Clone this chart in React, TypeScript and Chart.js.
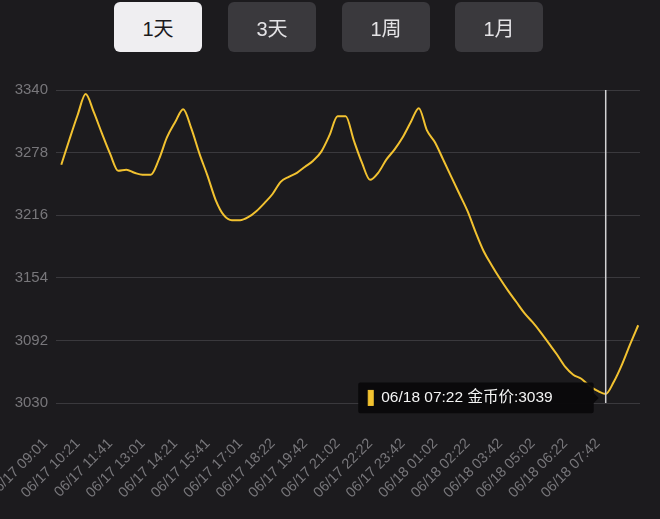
import React, { useEffect, useRef } from 'react';
import { Chart, registerables, Tooltip } from 'chart.js';

Chart.register(...registerables);

const rangeButtons = ['1天', '3天', '1周', '1月'];
const activeRange = '1天';

const tickLabels = [
  '06/17 09:01', '06/17 10:21', '06/17 11:41', '06/17 13:01', '06/17 14:21', '06/17 15:41',
  '06/17 17:01', '06/17 18:22', '06/17 19:42', '06/17 21:02', '06/17 22:22', '06/17 23:42',
  '06/18 01:02', '06/18 02:22', '06/18 03:42', '06/18 05:02', '06/18 06:22', '06/18 07:42',
];
const pointsPerTick = 4;

const prices = [
  3266, 3291, 3315, 3336, 3318, 3297, 3277, 3260, 3261, 3258, 3256, 3256,
  3271, 3293, 3308, 3321, 3302, 3277, 3255, 3231, 3216, 3211, 3211, 3214,
  3220, 3228, 3237, 3249, 3254, 3258, 3264, 3270, 3279, 3295, 3314, 3314,
  3290, 3268, 3251, 3258, 3271, 3281, 3293, 3308, 3322, 3300, 3288, 3271,
  3254, 3237, 3220, 3199, 3180, 3166, 3153, 3141, 3130, 3119, 3110, 3100,
  3089, 3078, 3066, 3058, 3054, 3047, 3042, 3039, 3051, 3068, 3088, 3107,
];

const yMin = 3030;
const yMax = 3340;
const yStep = 62;

const highlightIndex = 67;
const highlightTime = '06/18 07:22';
const seriesName = '金币价';

const BG = '#1c1b1e';
const LINE = '#f2c230';
const GRID = '#3a393d';
const LABEL = '#78777b';
const FONT = '"Liberation Sans", Arial, "Noto Sans CJK SC", sans-serif';

(Tooltip.positioners as any).shifted = function (items: any[]) {
  if (!items.length) return false;
  const el = items[0].element;
  return { x: el.x, y: el.y + 4 };
};

const crosshair = {
  id: 'crosshair',
  afterDatasetsDraw(chart: any) {
    const x = chart.scales.x.getPixelForValue(highlightIndex);
    const { top, bottom } = chart.chartArea;
    const ctx = chart.ctx;
    ctx.save();
    ctx.strokeStyle = '#d2d2d4';
    ctx.lineWidth = 1.5;
    ctx.beginPath();
    ctx.moveTo(x, top);
    ctx.lineTo(x, bottom);
    ctx.stroke();
    ctx.restore();
  },
};

export default function App() {
  const canvasRef = useRef<HTMLCanvasElement | null>(null);

  useEffect(() => {
    if (!canvasRef.current) return;
    const chart = new Chart(canvasRef.current, {
      type: 'line',
      data: {
        datasets: [
          {
            label: seriesName,
            data: prices.map((v, i) => ({ x: i, y: v })),
            borderColor: LINE,
            backgroundColor: LINE,
            borderWidth: 2,
            pointRadius: 0,
            pointHoverRadius: 0,
            cubicInterpolationMode: 'monotone',
            fill: false,
          },
        ],
      },
      options: {
        animation: false,
        responsive: true,
        maintainAspectRatio: false,
        events: [],
        layout: { padding: { top: 90, right: 20, left: 0, bottom: 0 } },
        plugins: {
          legend: { display: false },
          tooltip: {
            enabled: true,
            position: 'shifted' as any,
            xAlign: 'right',
            yAlign: 'center',
            backgroundColor: 'rgba(9,8,10,0.96)',
            bodyColor: '#f4f4f4',
            bodyFont: { family: FONT, size: 15.5 },
            padding: { left: 10, right: 41, top: 6, bottom: 6 },
            caretSize: 5,
            caretPadding: 7,
            cornerRadius: 2,
            displayColors: true,
            boxWidth: 5,
            boxHeight: 15,
            boxPadding: 6,
            multiKeyBackground: LINE,
            callbacks: {
              title: () => [],
              label: (ctx: any) => `${highlightTime} ${seriesName}:${ctx.parsed.y}`,
              labelColor: () => ({ borderColor: LINE, backgroundColor: LINE, borderWidth: 0 }),
            },
          },
        },
        scales: {
          x: {
            type: 'linear',
            min: -0.652,
            max: 71.22,
            grid: { display: false, drawTicks: false },
            border: { display: false },
            afterBuildTicks: (scale: any) => {
              scale.ticks = tickLabels.map((_, k) => ({ value: k * pointsPerTick }));
            },
            afterFit: (scale: any) => {
              scale.height = 116;
              scale.paddingLeft = 0;
              scale.paddingRight = 0;
            },
            ticks: {
              autoSkip: false,
              maxRotation: 45,
              minRotation: 45,
              padding: 32,
              labelOffset: -16,
              color: LABEL,
              font: { family: FONT, size: 14.5 },
              callback: (value: any) => tickLabels[Math.round(Number(value) / pointsPerTick)] ?? '',
            },
          },
          y: {
            type: 'linear',
            min: yMin,
            max: yMax,
            grid: { color: GRID, lineWidth: 1, drawTicks: false },
            border: { display: false },
            afterFit: (scale: any) => {
              scale.width = 56;
              scale.paddingTop = 0;
              scale.paddingBottom = 0;
            },
            ticks: {
              stepSize: yStep,
              padding: 8,
              color: LABEL,
              font: { family: FONT, size: 15 },
              callback: (value: any) => String(value),
            },
          },
        },
      },
      plugins: [crosshair],
    });

    const active = [{ datasetIndex: 0, index: highlightIndex }];
    const pt: any = chart.getDatasetMeta(0).data[highlightIndex];
    chart.setActiveElements(active);
    chart.tooltip?.setActiveElements(active, { x: pt.x, y: pt.y });
    chart.update();

    return () => chart.destroy();
  }, []);

  const btnLefts = [114, 228, 342, 455];

  return (
    <div
      style={{
        position: 'fixed',
        left: 0,
        top: 0,
        width: 660,
        height: 519,
        background: BG,
        overflow: 'hidden',
      }}
    >
      <canvas ref={canvasRef} style={{ position: 'absolute', left: 0, top: 0, width: 660, height: 519 }} />
      {rangeButtons.map((b, i) => {
        const isActive = b === activeRange;
        return (
          <div
            key={b}
            style={{
              position: 'absolute',
              left: btnLefts[i],
              top: 2,
              width: 88,
              height: 50,
              borderRadius: 6,
              background: isActive ? '#efeef1' : '#3a393d',
              color: isActive ? '#1b1a1d' : '#e4e3e6',
              fontFamily: FONT,
              fontSize: 20,
              display: 'flex',
              alignItems: 'center',
              justifyContent: 'center',
              boxSizing: 'border-box',
            }}
          >
            {b}
          </div>
        );
      })}
    </div>
  );
}
